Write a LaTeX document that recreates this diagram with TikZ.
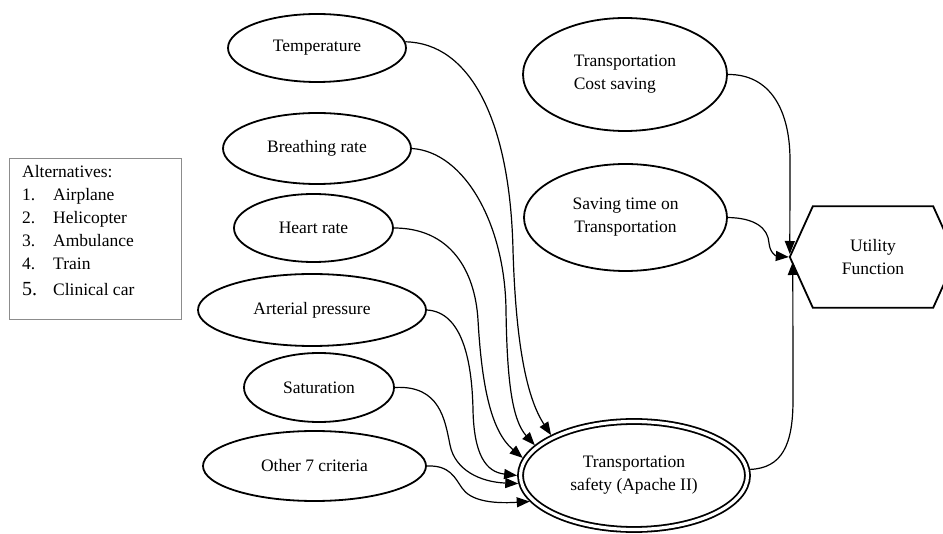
\documentclass[tikz,border=0pt]{standalone}
\usepackage{fontspec}
\setmainfont{Liberation Serif}
\usetikzlibrary{shapes.geometric,arrows.meta}
\newcommand\fs{\fontsize{17.5}{23}\selectfont}
\tikzset{
  crit/.style={ellipse, draw, line width=1.8pt, inner sep=0pt, font=\fs, align=center},
  edge/.style={line width=1.2pt, -{Triangle[length=13pt,width=10pt]}},
  altbox/.style={draw=black!45, line width=1pt, inner sep=0pt},
}
\begin{document}
\begin{tikzpicture}[x=1pt,y=-1pt]
\clip (0,0) rectangle (943,534);
\fill[white] (0,0) rectangle (943,534);

% alternatives box
\node[altbox, anchor=north west, minimum width=172pt, minimum height=161pt] (alt) at (9,158) {};
\node[anchor=north west, align=left, inner sep=0pt, font=\fs] (altt) at (22,165)
  {Alternatives:\\
   \makebox[31pt][l]{1.}Airplane\\
   \makebox[31pt][l]{2.}Helicopter\\
   \makebox[31pt][l]{3.}Ambulance\\
   \makebox[31pt][l]{4.}Train\\[3pt]
   \makebox[31pt][l]{\fontsize{20}{23}\selectfont 5.}Clinical car};

% criteria ellipses
\node[crit, minimum width=178pt, minimum height=68pt] (T) at (317,48) {Temperature};
\node[crit, minimum width=188pt, minimum height=71pt] (B) at (317,148.5) {Breathing rate};
\node[crit, minimum width=159pt, minimum height=68pt] (H) at (313.5,228) {Heart rate};
\node[crit, minimum width=228pt, minimum height=72pt] (A) at (312,310) {Arterial pressure};
\node[crit, minimum width=150pt, minimum height=69pt] (Sa) at (319,387.5) {Saturation};
\node[crit, minimum width=223pt, minimum height=70pt] (O) at (314.5,466) {Other 7 criteria};

% right column
\node[crit, minimum width=204pt, minimum height=113pt, align=left] (C) at (625,74.5) {Transportation\\Cost saving};
\node[crit, minimum width=203pt, minimum height=107pt] (Sv) at (625.5,217.5) {Saving time on\\Transportation};

% apache (double ellipse)
\node[ellipse, draw, double, line width=1.8pt, double distance=3.2pt, inner sep=0pt,
      outer sep=3.4pt, minimum width=227pt, minimum height=108pt, font=\fs, align=center]
      (S) at (634,475.5) {Transportation\\safety (Apache II)};

% utility hexagon
\node[minimum width=166pt, minimum height=101pt, inner sep=0pt, font=\fs, align=center] (U) at (873,257) {Utility\\Function};
\draw[line width=1.8pt, line join=miter]
  (U.west) -- ([xshift=23pt]U.north west) -- ([xshift=-23pt]U.north east) -- (U.east)
  -- ([xshift=-23pt]U.south east) -- ([xshift=23pt]U.south west) -- cycle;

% edges into apache
\draw[edge] (T.4) .. controls (470,43) and (510,120) .. (513,250)
            .. controls (516,350) and (528,400) .. (S.154);
\draw[edge] (B.east) .. controls (465,152) and (505,225) .. (506,310)
            .. controls (507,380) and (512,420) .. (S.163);
\draw[edge] (H.east) .. controls (450,228) and (475,270) .. (478,320)
            .. controls (482,390) and (492,432) .. (S.171);
\draw[edge] (A.east) .. controls (462,312) and (472,360) .. (473,410)
            .. controls (474,455) and (486,472) .. (S.180);
\draw[edge] (Sa.east) .. controls (440,385) and (445,420) .. (450,445)
            .. controls (455,470) and (480,482) .. (S.184);
\draw[edge] (O.east) .. controls (450,465) and (455,478) .. (462,488)
            .. controls (470,500) and (490,504) .. (S.194);

% edges into utility
\draw[edge] (C.east) .. controls (770,74) and (790,110) .. (790,160) -- ([yshift=3pt]U.west);
\draw[edge] (Sv.east) .. controls (755,218) and (768,228) .. (769,243)
            .. controls (770,253) and (776,256) .. ([xshift=-1pt]U.west);
\draw[edge] (S.3) .. controls (782,468) and (793,445) .. (793,400) -- ([shift={(3pt,-5pt)}]U.west);
\end{tikzpicture}
\end{document}
